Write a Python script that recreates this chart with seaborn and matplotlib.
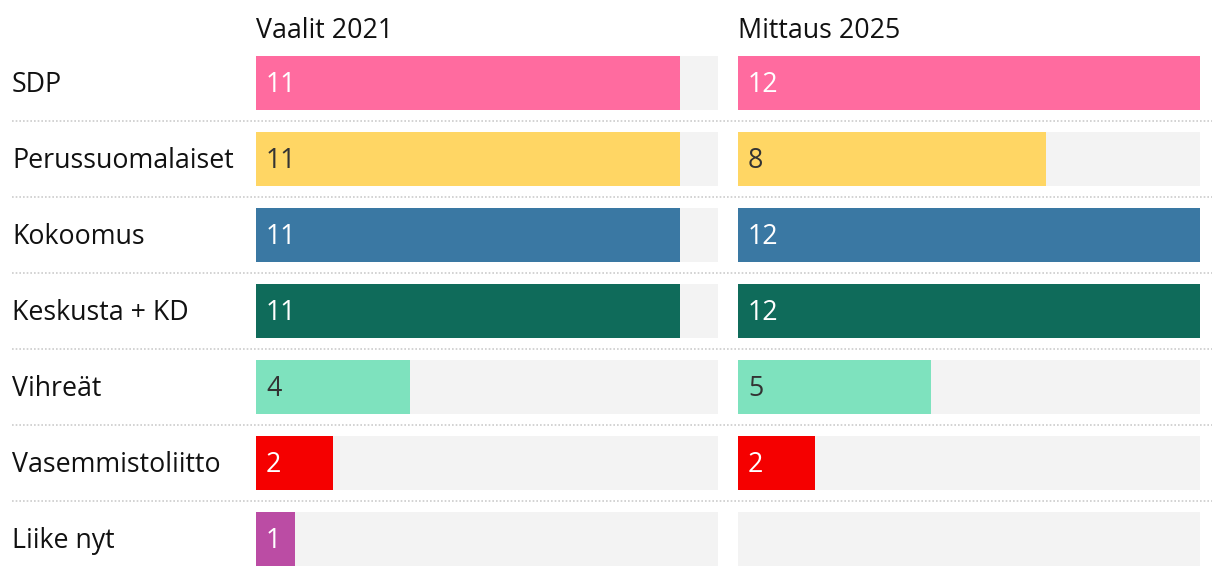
import matplotlib
matplotlib.use("Agg")
import matplotlib.pyplot as plt
import matplotlib.transforms as mtransforms
from matplotlib.lines import Line2D
import seaborn as sns
import pandas as pd

parties = ["SDP", "Perussuomalaiset", "Kokoomus", "Keskusta + KD", "Vihreät", "Vasemmistoliitto", "Liike nyt"]
seats_2021 = [11, 11, 11, 11, 4, 2, 1]
seats_2025 = [12, 8, 12, 12, 5, 2, 0]
panel_titles = ["Vaalit 2021", "Mittaus 2025"]
max_value = 12

colors = ["#FF6B9F", "#FFD664", "#3A78A3", "#0F6B5A", "#7EE2BE", "#F50000", "#BB4CA4"]
text_colors = ["white", "#333333", "white", "white", "#333333", "white", "white"]

sns.set_theme(style="white")
plt.rcParams["font.family"] = ["Open Sans", "DejaVu Sans"]

W, H = 1220, 576
fig = plt.figure(figsize=(W / 100, H / 100), dpi=100)

FS = 19.3
bar_w = 54 / 76
top_px, bot_px = 56, 566
panels_px = [(256, 718), (738, 1200)]
px = 72 / 100  # points per pixel

for (x0, x1), vals, title in zip(panels_px, [seats_2021, seats_2025], panel_titles):
    ax = fig.add_axes([x0 / W, 1 - bot_px / H, (x1 - x0) / W, (bot_px - top_px) / H])
    df = pd.DataFrame({"party": parties, "seats": vals, "bg": [max_value] * len(parties)})
    sns.barplot(data=df, x="bg", y="party", color="#F3F3F3", saturation=1,
                width=bar_w, orient="h", ax=ax, linewidth=0)
    sns.barplot(data=df, x="seats", y="party", hue="party", palette=colors,
                saturation=1, width=bar_w, orient="h", ax=ax, legend=False, linewidth=0)
    ax.set_xlim(0, max_value)
    ax.set_ylim(len(parties) - 1 + bar_w / 2, -bar_w / 2)
    ax.axis("off")
    trans = mtransforms.offset_copy(ax.transData, fig=fig, x=10 * px, y=-9 * px, units="points")
    for i, (v, tc) in enumerate(zip(vals, text_colors)):
        if v > 0:
            ax.text(0, i, str(v), color=tc, fontsize=FS, va="baseline", ha="left",
                    transform=trans)
    fig.text(x0 / W, 1 - 38 / H, title, fontsize=FS, color="#111111",
             ha="left", va="baseline")

# Category labels and separators
for i, p in enumerate(parties):
    yb = 83 + 76 * i + 9
    fig.text(12 / W, 1 - yb / H, p, fontsize=FS, color="#111111", ha="left", va="baseline")
    if i < len(parties) - 1:
        ys = 1 - (121 + 76 * i) / H
        fig.add_artist(Line2D([12 / W, 1212 / W], [ys, ys], transform=fig.transFigure,
                              color="#CCCCCC", lw=1.2, linestyle=(0, (1, 1.2))))

fig.savefig("out.png", dpi=100)
